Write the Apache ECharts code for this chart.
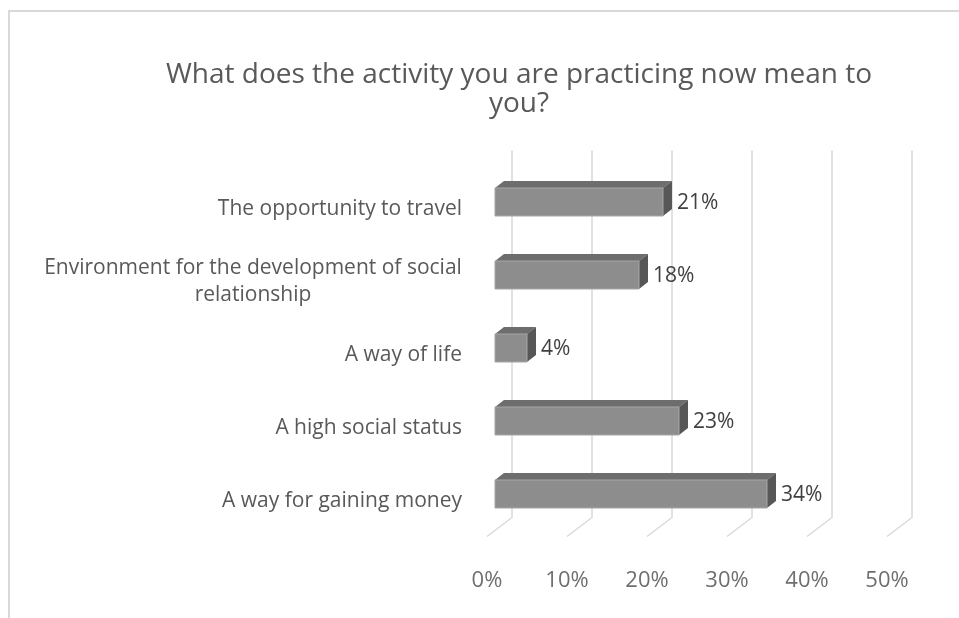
<!DOCTYPE html>
<html>
<head>
<meta charset="utf-8">
<script src="https://cdn.jsdelivr.net/npm/echarts@6/dist/echarts.min.js"></script>
<style>
  html, body { margin: 0; padding: 0; background: #fff; }
  #chart { width: 959px; height: 618px; }
</style>
</head>
<body>
<div id="chart"></div>
<script>
// data
var categories = [
  'The opportunity to travel',
  'Environment for the development of social\nrelationship',
  'A way of life',
  'A high social status',
  'A way for gaining money'
]
var values = [21, 18, 4, 23, 34]
var ticks = [0, 10, 20, 30, 40, 50]

var FONT = 'Open Sans'
var DX = 9 // 3d depth of the bars
var DY = 7
var BAR_H = 28

var chart = echarts.init(document.getElementById('chart'))

function renderBar(params, api) {
  var idx = api.value(0)
  var v = api.value(1)
  var p0 = api.coord([0, idx])
  var p1 = api.coord([v, idx])
  var x0 = p0[0]
  var x1 = p1[0]
  var yt = p0[1] - BAR_H / 2
  var yb = p0[1] + BAR_H / 2
  return {
    type: 'group',
    children: [
      {
        type: 'polygon',
        shape: { points: [[x0, yt], [x0 + DX, yt - DY], [x1 + DX, yt - DY], [x1, yt]] },
        style: { fill: '#6d6d6d' }
      },
      {
        type: 'polygon',
        shape: { points: [[x1, yt], [x1 + DX, yt - DY], [x1 + DX, yb - DY], [x1, yb]] },
        style: { fill: '#575757' }
      },
      {
        type: 'rect',
        shape: { x: x0, y: yt, width: x1 - x0, height: BAR_H },
        style: { fill: '#8d8d8d', stroke: '#a6a6a6', lineWidth: 1 }
      },
      {
        type: 'text',
        x: x1 + DX + 5,
        y: p0[1] + 1,
        style: {
          text: v + '%',
          fill: '#404040',
          font: '21px "' + FONT + '"',
          verticalAlign: 'middle',
          align: 'left'
        }
      }
    ]
  }
}

function renderGrid(params, api) {
  var v = api.value(0)
  var cs = params.coordSys
  var x = api.coord([v, 0])[0]
  var top = cs.y - 15
  var bottom = cs.y + cs.height
  return {
    type: 'polyline',
    shape: { points: [[x + 17, top], [x + 17, bottom - 13], [x - 8, bottom + 6]] },
    style: { stroke: '#d9d9d9', lineWidth: 1.5, fill: null }
  }
}

chart.setOption({
  animation: false,
  backgroundColor: '#fff',
  title: {
    text: 'What does the activity you are practicing now mean to\nyou?',
    left: 514,
    top: 56,
    textAlign: 'center',
    textStyle: {
      fontFamily: FONT,
      fontWeight: 'normal',
      fontSize: 28,
      lineHeight: 29,
      color: '#595959'
    }
  },
  graphic: [
    {
      type: 'rect',
      shape: { x: 9, y: 11, width: 1000, height: 700 },
      style: { fill: null, stroke: '#d9d9d9', lineWidth: 2 },
      silent: true
    }
  ],
  grid: {
    left: 495,
    right: 64,
    top: 165.5,
    bottom: 87.5
  },
  xAxis: {
    type: 'value',
    min: 0,
    max: 50,
    interval: 10,
    axisLine: { show: false },
    axisTick: { show: false },
    splitLine: { show: false },
    axisLabel: {
      margin: 39,
      padding: [0, 16, 0, 0],
      color: '#6f6f6f',
      fontFamily: FONT,
      fontSize: 22,
      formatter: '{value}%'
    }
  },
  yAxis: {
    type: 'category',
    inverse: true,
    data: categories,
    axisLine: { show: false },
    axisTick: { show: false },
    axisLabel: {
      margin: 33,
      padding: [14, 0, 0, 0],
      color: '#595959',
      fontFamily: FONT,
      fontSize: 21,
      lineHeight: 27,
      formatter: function (val) {
        if (val.indexOf('\n') < 0) return val
        return val.split('\n').map(function (s) { return '{c|' + s + '}' }).join('\n')
      },
      rich: {
        c: {
          width: 418,
          align: 'center',
          color: '#595959',
          fontFamily: FONT,
          fontSize: 21,
          lineHeight: 27
        }
      }
    }
  },
  series: [
    {
      type: 'custom',
      name: 'grid',
      z: 1,
      silent: true,
      renderItem: renderGrid,
      data: ticks.map(function (t) { return [t] })
    },
    {
      type: 'custom',
      name: 'share',
      z: 3,
      renderItem: renderBar,
      encode: { x: 1, y: 0 },
      data: values.map(function (v, i) { return [i, v] })
    }
  ]
})
</script>
</body>
</html>
